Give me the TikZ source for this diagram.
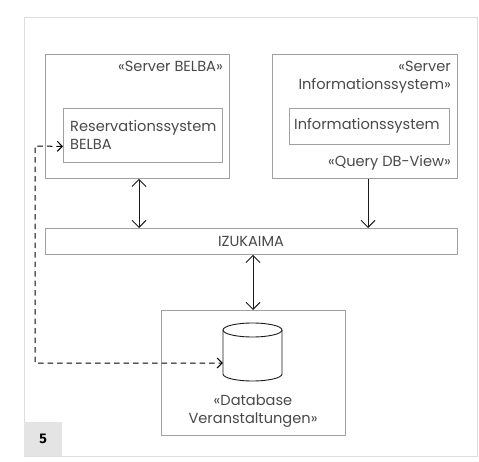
\documentclass[tikz,border=0pt]{standalone}
\usepackage{fontspec}
\setmainfont{Poppins}
\newfontfamily\tagfont{Fira Sans}
\usetikzlibrary{arrows.meta,calc}
\definecolor{framec}{HTML}{DDDDDD}
\definecolor{boxc}{HTML}{A0A0A0}
\definecolor{txtc}{HTML}{4A4A4A}
\definecolor{arrc}{HTML}{1A1A1A}
\definecolor{tagc}{HTML}{E4E4E4}
\begin{document}
\begin{tikzpicture}[x=1pt,y=-1pt,
  box/.style={draw=boxc,line width=0.9pt,fill=white,anchor=north west,inner sep=0pt},
  lbl/.style={text=txtc,font=\fontsize{14.6}{17.5}\selectfont,inner sep=0pt,align=right},
  dbl/.style={draw=arrc,line width=0.9pt,{Straight Barb[length=7pt,width=14pt]}-{Straight Barb[length=7pt,width=14pt]}},
  sgl/.style={draw=arrc,line width=0.9pt,-{Straight Barb[length=7pt,width=14pt]}},
  dsh/.style={draw=black,line width=1pt,dash pattern=on 5.5pt off 4pt,{Straight Barb[length=5pt,width=10pt]}-{Straight Barb[length=5pt,width=10pt]}},
  cylsty/.style={draw=arrc,line width=0.9pt}]
\useasboundingbox (0,0) rectangle (479,462);
\node[draw=framec,line width=0.8pt,anchor=north west,inner sep=0pt,minimum width=453pt,minimum height=439pt] (frame) at (24,17) {};
\node[fill=tagc,anchor=north west,inner sep=0pt,minimum width=38pt,minimum height=34pt,font=\tagfont\bfseries\fontsize{14}{14}\selectfont] (tag) at (24,422) {5};
% Server BELBA
\node[box,minimum width=184pt,minimum height=124pt] (sb) at (45,54) {};
\node[lbl,anchor=north east] (sbl) at (223,61) {«Server BELBA»};
\node[box,minimum width=159pt,minimum height=54pt] (res) at (63,108) {};
\node[lbl,anchor=west,align=left] (resl) at (70,135) {Reservationssystem\\BELBA};
% Server Informationssystem
\node[box,minimum width=185pt,minimum height=124pt] (si) at (272,54) {};
\node[lbl,anchor=north east] (sil) at (451,61) {«Server\\Informationssystem»};
\node[box,minimum width=160pt,minimum height=36pt] (inf) at (289,108) {};
\node[lbl,anchor=west] (infl) at (294,126) {Informationssystem};
\node[lbl,anchor=east] (qry) at (451,163) {«Query DB-View»};
% IZUKAIMA
\node[box,minimum width=412pt,minimum height=26pt] (iz) at (45,228) {};
\node[lbl] (izl) at (251,241) {IZUKAIMA};
% Database
\node[box,minimum width=184pt,minimum height=125pt] (db) at (161,310) {};
\node[inner sep=0pt,minimum width=59pt,minimum height=58pt] (cyl) at (252.5,352) {};
\draw[cylsty,fill=white] (223,330) -- (223,374) arc[start angle=180,end angle=0,x radius=29.5,y radius=7] -- (282,330);
\draw[cylsty] (252.5,330) ellipse [x radius=29.5,y radius=7];
\node[lbl,align=center] (dbl) at (253,411) {«Database\\Veranstaltungen»};
% connectors
\coordinate (ax1) at (139,0);
\coordinate (ax2) at (368,0);
\coordinate (ax3) at (253,0);
\draw[dbl] (sb.south -| ax1) -- (iz.north -| ax1);
\draw[sgl] (si.south -| ax2) -- (iz.north -| ax2);
\draw[dbl] (iz.south -| ax3) -- (db.north -| ax3);
\coordinate (d0) at ($(res.west)+(0,11)$);
\coordinate (d1) at (35,146);
\coordinate (d2) at (35,363);
\coordinate (d3) at ($(cyl.west)+(0,11)$);
\draw[dsh] (d0) -- (d1) -- (d2) -- (d3);
\end{tikzpicture}
\end{document}
